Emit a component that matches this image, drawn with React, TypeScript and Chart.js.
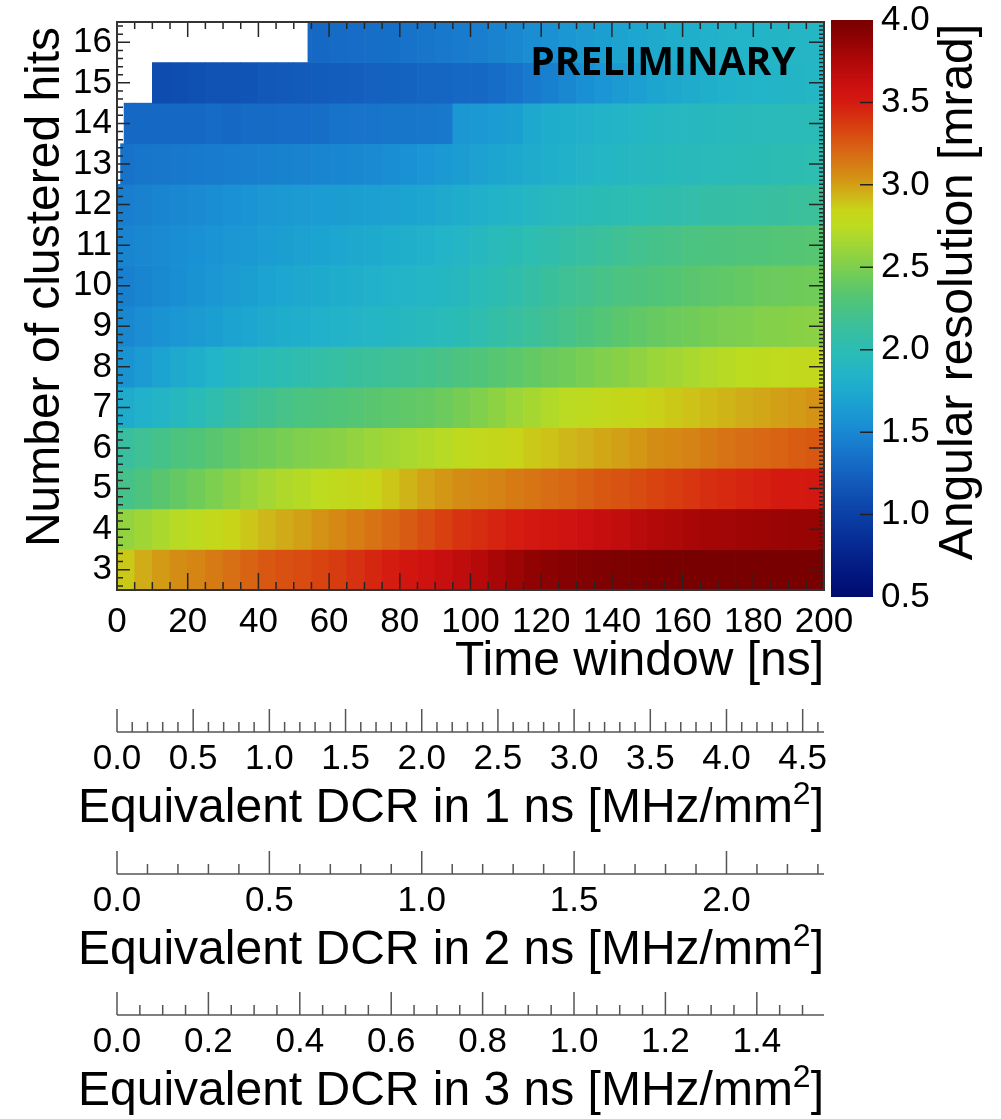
import React, { useEffect, useRef } from "react";
import { Chart, registerables } from "chart.js";

Chart.register(...registerables);

// ---------------- data ----------------
const hitCounts = [3, 4, 5, 6, 7, 8, 9, 10, 11, 12, 13, 14, 15, 16];
const timeBinStarts = [
  0, 5, 10, 15, 20, 25, 30, 35, 40, 45, 50, 55, 60, 65, 70, 75, 80, 85, 90, 95,
  100, 105, 110, 115, 120, 125, 130, 135, 140, 145, 150, 155, 160, 165, 170, 175, 180, 185, 190, 195,
];
const timeBinWidth = 5;
// first time window (ns) that has entries, per hit count (3..16)
const firstTimeWithData = [0, 0, 0, 0, 0, 0, 0, 0, 0, 0, 1, 2, 10, 54];

// angular resolution [mrad] per time bin, one array per number of clustered hits
const res3 = [2.88, 2.96, 3.02, 3.06, 3.09, 3.13, 3.17, 3.22, 3.26, 3.29, 3.31, 3.34, 3.37, 3.41, 3.45, 3.49, 3.54, 3.58, 3.62, 3.67, 3.72, 3.78, 3.83, 3.88, 3.91, 3.93, 3.95, 3.96, 3.97, 3.98, 3.99, 4.0, 4.0, 4.0, 4.0, 4.0, 4.0, 4.0, 4.0, 4.0];
const res4 = [2.58, 2.63, 2.68, 2.73, 2.77, 2.81, 2.85, 2.89, 2.93, 2.97, 3.0, 3.04, 3.08, 3.12, 3.16, 3.2, 3.25, 3.3, 3.35, 3.4, 3.43, 3.46, 3.49, 3.52, 3.54, 3.57, 3.6, 3.63, 3.66, 3.7, 3.73, 3.76, 3.78, 3.8, 3.81, 3.82, 3.83, 3.84, 3.85, 3.86];
const res5 = [2.22, 2.28, 2.34, 2.4, 2.45, 2.5, 2.55, 2.6, 2.65, 2.69, 2.72, 2.76, 2.79, 2.82, 2.85, 2.89, 2.94, 2.99, 3.03, 3.06, 3.08, 3.1, 3.13, 3.15, 3.18, 3.2, 3.23, 3.26, 3.28, 3.31, 3.34, 3.36, 3.39, 3.42, 3.44, 3.46, 3.48, 3.5, 3.51, 3.52];
const res6 = [2.12, 2.17, 2.22, 2.27, 2.3, 2.34, 2.38, 2.42, 2.45, 2.48, 2.51, 2.53, 2.55, 2.58, 2.61, 2.64, 2.67, 2.7, 2.73, 2.77, 2.8, 2.82, 2.85, 2.88, 2.9, 2.93, 2.95, 2.98, 3.0, 3.03, 3.06, 3.08, 3.1, 3.13, 3.16, 3.18, 3.2, 3.22, 3.24, 3.26];
const res7 = [1.77, 1.82, 1.87, 1.92, 1.97, 2.03, 2.09, 2.15, 2.19, 2.23, 2.26, 2.28, 2.3, 2.32, 2.34, 2.36, 2.38, 2.4, 2.43, 2.47, 2.51, 2.56, 2.61, 2.66, 2.7, 2.74, 2.77, 2.8, 2.82, 2.84, 2.86, 2.88, 2.9, 2.92, 2.94, 2.96, 2.98, 3.0, 3.02, 3.04];
const res8 = [1.57, 1.63, 1.69, 1.75, 1.8, 1.85, 1.9, 1.94, 1.98, 2.01, 2.04, 2.07, 2.1, 2.13, 2.15, 2.17, 2.19, 2.21, 2.24, 2.27, 2.3, 2.33, 2.36, 2.39, 2.42, 2.45, 2.48, 2.51, 2.54, 2.57, 2.61, 2.64, 2.67, 2.7, 2.73, 2.75, 2.77, 2.78, 2.79, 2.8];
const res9 = [1.5, 1.53, 1.57, 1.6, 1.63, 1.66, 1.69, 1.72, 1.75, 1.78, 1.8, 1.82, 1.84, 1.86, 1.88, 1.9, 1.92, 1.94, 1.96, 1.99, 2.03, 2.07, 2.11, 2.15, 2.19, 2.23, 2.27, 2.31, 2.35, 2.38, 2.41, 2.43, 2.45, 2.47, 2.49, 2.5, 2.52, 2.53, 2.54, 2.55];
const res10 = [1.45, 1.48, 1.51, 1.54, 1.57, 1.6, 1.63, 1.66, 1.69, 1.72, 1.74, 1.76, 1.78, 1.8, 1.82, 1.84, 1.86, 1.88, 1.9, 1.93, 1.97, 2.01, 2.05, 2.09, 2.13, 2.17, 2.2, 2.23, 2.26, 2.28, 2.3, 2.32, 2.34, 2.36, 2.38, 2.4, 2.42, 2.43, 2.44, 2.45];
const res11 = [1.48, 1.5, 1.52, 1.54, 1.56, 1.58, 1.6, 1.62, 1.64, 1.66, 1.68, 1.7, 1.72, 1.74, 1.76, 1.78, 1.8, 1.82, 1.85, 1.88, 1.92, 1.96, 1.99, 2.02, 2.05, 2.08, 2.11, 2.14, 2.17, 2.2, 2.22, 2.24, 2.26, 2.27, 2.28, 2.29, 2.3, 2.31, 2.32, 2.33];
const res12 = [1.44, 1.46, 1.48, 1.5, 1.52, 1.54, 1.56, 1.58, 1.6, 1.62, 1.63, 1.64, 1.65, 1.66, 1.67, 1.68, 1.7, 1.72, 1.75, 1.78, 1.81, 1.84, 1.87, 1.9, 1.93, 1.95, 1.97, 1.99, 2.0, 2.02, 2.03, 2.05, 2.06, 2.08, 2.09, 2.1, 2.11, 2.12, 2.14, 2.15];
const res13 = [1.36, 1.38, 1.39, 1.4, 1.41, 1.42, 1.43, 1.44, 1.45, 1.46, 1.47, 1.48, 1.49, 1.5, 1.52, 1.54, 1.56, 1.59, 1.62, 1.65, 1.68, 1.71, 1.74, 1.77, 1.8, 1.83, 1.86, 1.88, 1.9, 1.92, 1.93, 1.94, 1.95, 1.96, 1.97, 1.98, 1.99, 2.0, 2.01, 2.02];
const res14 = [1.29, 1.29, 1.3, 1.3, 1.3, 1.31, 1.3, 1.31, 1.31, 1.32, 1.32, 1.33, 1.36, 1.37, 1.37, 1.38, 1.38, 1.39, 1.4, 1.6, 1.62, 1.64, 1.66, 1.74, 1.78, 1.8, 1.82, 1.84, 1.86, 1.88, 1.9, 1.91, 1.92, 1.93, 1.94, 1.95, 1.96, 1.96, 1.97, 1.98];
const res15 = [null, null, 1.1, 1.11, 1.13, 1.15, 1.15, 1.16, 1.18, 1.19, 1.2, 1.21, 1.22, 1.23, 1.24, 1.25, 1.26, 1.27, 1.28, 1.29, 1.3, 1.32, 1.36, 1.41, 1.45, 1.5, 1.55, 1.59, 1.63, 1.67, 1.71, 1.74, 1.77, 1.8, 1.82, 1.84, 1.85, 1.86, 1.87, 1.88];
const res16 = [null, null, null, null, null, null, null, null, null, null, 1.3, 1.3, 1.31, 1.32, 1.33, 1.34, 1.36, 1.38, 1.4, 1.42, 1.44, 1.47, 1.5, 1.53, 1.56, 1.6, 1.63, 1.66, 1.69, 1.72, 1.75, 1.78, 1.8, 1.82, 1.84, 1.85, 1.86, 1.87, 1.88, 1.88];
const resolutionRows: (number | null)[][] = [res3, res4, res5, res6, res7, res8, res9, res10, res11, res12, res13, res14, res15, res16];

const timeTicks = [0, 20, 40, 60, 80, 100, 120, 140, 160, 180, 200];
const hitTicks = [3, 4, 5, 6, 7, 8, 9, 10, 11, 12, 13, 14, 15, 16];
const resolutionTicks = [0.5, 1.0, 1.5, 2.0, 2.5, 3.0, 3.5, 4.0];
const dcr1nsTicks = [0, 0.5, 1.0, 1.5, 2.0, 2.5, 3.0, 3.5, 4.0, 4.5];
const dcr2nsTicks = [0, 0.5, 1.0, 1.5, 2.0];
const dcr3nsTicks = [0, 0.2, 0.4, 0.6, 0.8, 1.0, 1.2, 1.4];
const dcrAxisMax = [4.64, 2.32, 1.547];
const dcrWindowNs = [1, 2, 3];
const timeRange = [0, 200];
const hitRange = [2.5, 16.5];
const resolutionRange = [0.5, 4.0];

// ---------------- palette ----------------
const paletteStops: [number, string][] = [
  [0.5, "#000a6e"], [0.65, "#021880"], [0.8, "#062890"], [0.95, "#0a3aa0"], [1.1, "#0e4cb0"],
  [1.25, "#1462c0"], [1.4, "#1878cc"], [1.55, "#1a90d4"], [1.7, "#1ca4d0"], [1.85, "#22b4c8"],
  [2.0, "#2cbcb4"], [2.15, "#3cc09a"], [2.3, "#50c478"], [2.45, "#70cc58"], [2.6, "#98d43c"],
  [2.75, "#bcdc20"], [2.85, "#c8d418"], [2.95, "#d0b018"], [3.05, "#d49014"], [3.2, "#d86814"],
  [3.35, "#d84010"], [3.5, "#d41a10"], [3.6, "#cc1010"], [3.75, "#b00808"], [3.9, "#8c0202"], [4.0, "#780000"],
];

function hexToRgb(h: string) {
  const n = parseInt(h.slice(1), 16);
  return [(n >> 16) & 255, (n >> 8) & 255, n & 255];
}
function paletteColor(v: number): string {
  const s = paletteStops;
  if (v <= s[0][0]) return s[0][1];
  if (v >= s[s.length - 1][0]) return s[s.length - 1][1];
  for (let i = 1; i < s.length; i++) {
    if (v <= s[i][0]) {
      const [v0, c0] = s[i - 1];
      const [v1, c1] = s[i];
      const t = (v - v0) / (v1 - v0);
      const a = hexToRgb(c0);
      const b = hexToRgb(c1);
      const m = (k: number) => Math.round(a[k] + (b[k] - a[k]) * t);
      return `rgb(${m(0)},${m(1)},${m(2)})`;
    }
  }
  return s[s.length - 1][1];
}

// ---------------- cells ----------------
type Cell = { x: [number, number]; y: number; v: number };
const cells: Cell[] = [];
hitCounts.forEach((hits, r) => {
  resolutionRows[r].forEach((v, i) => {
    if (v === null) return;
    const t0 = Math.max(timeBinStarts[i], firstTimeWithData[r]);
    const t1 = timeBinStarts[i] + timeBinWidth;
    if (t1 > t0) cells.push({ x: [t0, t1], y: hits, v });
  });
});

// ---------------- styling helpers ----------------
const FAMILY = "Liberation Sans";
const tickFont = { family: FAMILY, size: 35, lineHeight: 1 };
const titleFont = { family: FAMILY, size: 48, lineHeight: 1 };
const zeroPad = (s: any) => {
  s.paddingTop = 0;
  s.paddingBottom = 0;
  s.paddingLeft = 0;
  s.paddingRight = 0;
};
const fixedTicks = (vals: number[]) => (s: any) => {
  s.ticks = vals.map((value) => ({ value }));
};
const noGrid = { display: false, drawTicks: false };
const noBorder = { display: false };

const dcrSpecs = [
  { id: "dcr1", max: dcrAxisMax[0], minorStep: 0.1, majorEvery: 5, ns: dcrWindowNs[0] },
  { id: "dcr2", max: dcrAxisMax[1], minorStep: 0.1, majorEvery: 5, ns: dcrWindowNs[1] },
  { id: "dcr3", max: dcrAxisMax[2], minorStep: 0.05, majorEvery: 4, ns: dcrWindowNs[2] },
];
const DCR_LINE_OFFSET = 25;
const DCR_TITLE_OFFSET = 102;

const decorPlugin = {
  id: "decor",
  afterLayout(chart: any) {
    const cb = chart.scales.cb;
    const a = chart.chartArea;
    cb.top = a.top - 2;
    cb.bottom = a.bottom + 7;
    cb.height = cb.bottom - cb.top;
    cb.configure();
  },
  afterDatasetsDraw(chart: any) {
    const { ctx, chartArea: a, scales } = chart;
    const xs = scales.x;
    const ys = scales.y;
    ctx.save();
    ctx.strokeStyle = "#262626";
    ctx.lineWidth = 1.5;
    ctx.beginPath();
    // bottom / top ticks every 5 ns, major every 20 ns
    for (let k = 0; k <= 40; k++) {
      const px = xs.getPixelForValue(k * 5);
      const major = k % 4 === 0;
      ctx.moveTo(px, a.bottom);
      ctx.lineTo(px, a.bottom - (major ? 17 : 8));
      ctx.moveTo(px, a.top);
      ctx.lineTo(px, a.top + (major ? 15 : 7));
    }
    // left ticks every 0.2
    for (let k = 13; k <= 82; k++) {
      const py = ys.getPixelForValue(k * 0.2);
      const major = k % 5 === 0;
      ctx.moveTo(a.left, py);
      ctx.lineTo(a.left + (major ? 13 : 6), py);
    }
    // right ticks every 0.1
    for (let k = 26; k <= 164; k++) {
      const py = ys.getPixelForValue(k * 0.1);
      const major = k % 10 === 0;
      ctx.moveTo(a.right, py);
      ctx.lineTo(a.right - (major ? 15 : 5), py);
    }
    ctx.stroke();
    ctx.lineWidth = 2;
    ctx.strokeStyle = "#333";
    ctx.strokeRect(a.left, a.top, a.right - a.left, a.bottom - a.top);
    ctx.restore();
  },
  afterDraw(chart: any) {
    const { ctx, chartArea: a, scales } = chart;
    ctx.save();
    // colour bar
    const cb = scales.cb;
    const x0 = a.right + 7;
    const x1 = a.right + 49;
    const yTop = cb.getPixelForValue(resolutionRange[1]);
    const yBot = cb.getPixelForValue(resolutionRange[0]);
    const g = ctx.createLinearGradient(0, yBot, 0, yTop);
    paletteStops.forEach(([v, c]) =>
      g.addColorStop((v - resolutionRange[0]) / (resolutionRange[1] - resolutionRange[0]), c)
    );
    ctx.fillStyle = g;
    ctx.fillRect(x0, yTop, x1 - x0, yBot - yTop);
    ctx.strokeStyle = "#222";
    ctx.lineWidth = 1.5;
    ctx.beginPath();
    resolutionTicks.forEach((v) => {
      if (v <= resolutionRange[0] || v >= resolutionRange[1]) return;
      const py = cb.getPixelForValue(v);
      ctx.moveTo(x1 - 13, py);
      ctx.lineTo(x1, py);
    });
    ctx.stroke();

    // DCR axes
    ctx.strokeStyle = "#555";
    ctx.lineWidth = 1.5;
    dcrSpecs.forEach((spec) => {
      const s = scales[spec.id];
      const yl = s.top + DCR_LINE_OFFSET;
      ctx.beginPath();
      ctx.moveTo(s.left, yl);
      ctx.lineTo(s.right, yl);
      const n = Math.floor(spec.max / spec.minorStep + 1e-6);
      for (let k = 0; k <= n; k++) {
        const px = s.getPixelForValue(k * spec.minorStep);
        const major = k % spec.majorEvery === 0;
        ctx.moveTo(px, yl);
        ctx.lineTo(px, yl - (major ? 23 : 10));
      }
      ctx.stroke();
    });

    // DCR titles with superscript, right-aligned to the axis end
    ctx.fillStyle = "#000";
    ctx.textAlign = "left";
    ctx.textBaseline = "middle";
    dcrSpecs.forEach((spec) => {
      const s = scales[spec.id];
      const yc = s.top + DCR_TITLE_OFFSET;
      const main = `Equivalent DCR in ${spec.ns} ns [MHz/mm`;
      const bigFont = `48px "${FAMILY}"`;
      const supFont = `32px "${FAMILY}"`;
      ctx.font = bigFont;
      const wMain = ctx.measureText(main).width;
      const wClose = ctx.measureText("]").width;
      ctx.font = supFont;
      const wSup = ctx.measureText("2").width;
      let x = s.right - (wMain + wSup + wClose);
      ctx.font = bigFont;
      ctx.fillText(main, x, yc);
      x += wMain;
      ctx.font = supFont;
      ctx.fillText("2", x, yc - 14);
      x += wSup;
      ctx.font = bigFont;
      ctx.fillText("]", x, yc);
    });

    // rotated titles
    ctx.textAlign = "center";
    ctx.textBaseline = "middle";
    ctx.font = `48px "${FAMILY}"`;
    ctx.save();
    ctx.translate(a.left - 71, 287);
    ctx.rotate(-Math.PI / 2);
    ctx.fillText("Number of clustered hits", 0, 0);
    ctx.restore();
    ctx.save();
    ctx.translate(a.right + 135, 292);
    ctx.rotate(-Math.PI / 2);
    ctx.fillText("Angular resolution [mrad]", 0, 0);
    ctx.restore();

    // PRELIMINARY tag
    ctx.font = `bold 39px "Open Sans"`;
    ctx.fillText("PRELIMINARY", a.right - 161, a.top + 42);
    ctx.restore();
  },
};

function dcrScale(weight: number, max: number, ticks: number[], height: number) {
  return {
    type: "linear",
    position: "bottom",
    weight,
    min: 0,
    max,
    offset: false,
    grid: noGrid,
    border: noBorder,
    afterBuildTicks: fixedTicks(ticks),
    ticks: {
      font: tickFont,
      color: "#000",
      padding: 34.5,
      autoSkip: false,
      maxRotation: 0,
      minRotation: 0,
      callback: (v: any) => Number(v).toFixed(1),
    },
    title: { display: false },
    afterFit: (s: any) => {
      s.height = height;
      zeroPad(s);
    },
  };
}

export default function App() {
  const ref = useRef<HTMLCanvasElement>(null);

  useEffect(() => {
    if (!ref.current) return;
    const chart = new Chart(ref.current, {
      type: "bar",
      data: {
        datasets: [
          {
            data: cells as any,
            xAxisID: "x",
            yAxisID: "y",
            grouped: false,
            barPercentage: 1,
            categoryPercentage: 1,
            borderWidth: 0,
            backgroundColor: (c: any) => (c.raw ? paletteColor(c.raw.v) : "transparent"),
          } as any,
        ],
      },
      options: {
        indexAxis: "y",
        responsive: false,
        maintainAspectRatio: false,
        animation: false,
        devicePixelRatio: 1,
        events: [],
        layout: { padding: { top: 22, left: 0, right: 0, bottom: 0 } },
        plugins: { legend: { display: false }, tooltip: { enabled: false }, title: { display: false } },
        scales: {
          x: {
            type: "linear",
            position: "bottom",
            weight: 0,
            min: timeRange[0],
            max: timeRange[1],
            offset: false,
            grid: noGrid,
            border: noBorder,
            afterBuildTicks: fixedTicks(timeTicks),
            ticks: {
              font: tickFont,
              color: "#000",
              padding: 14.5,
              autoSkip: false,
              maxRotation: 0,
              minRotation: 0,
              callback: (v: any) => String(v),
            },
            title: { display: true, text: "Time window [ns]", align: "end", font: titleFont, color: "#000", padding: { top: 0, bottom: 21 } },
            afterFit: (s: any) => {
              s.height = 117;
              zeroPad(s);
            },
          },
          y: {
            type: "linear",
            position: "left",
            min: hitRange[0],
            max: hitRange[1],
            offset: false,
            grid: noGrid,
            border: noBorder,
            afterBuildTicks: fixedTicks(hitTicks),
            ticks: { font: tickFont, color: "#000", padding: 5, autoSkip: false, callback: (v: any) => String(v) },
            afterFit: (s: any) => {
              s.width = 117;
              zeroPad(s);
            },
          },
          cb: {
            type: "linear",
            position: "right",
            min: resolutionRange[0],
            max: resolutionRange[1],
            offset: false,
            grid: noGrid,
            border: noBorder,
            afterBuildTicks: fixedTicks(resolutionTicks),
            ticks: { font: tickFont, color: "#000", padding: 57, autoSkip: false, callback: (v: any) => Number(v).toFixed(1) },
            afterFit: (s: any) => {
              s.width = 177;
              zeroPad(s);
            },
          },
          dcr1: dcrScale(1, dcrAxisMax[0], dcr1nsTicks, 142),
          dcr2: dcrScale(2, dcrAxisMax[1], dcr2nsTicks, 141),
          dcr3: dcrScale(3, dcrAxisMax[2], dcr3nsTicks, 129),
        } as any,
      },
      plugins: [decorPlugin],
    } as any);
    return () => chart.destroy();
  }, []);

  return (
    <div style={{ position: "absolute", left: 0, top: 0, width: 1001, height: 1119, background: "#fff" }}>
      <canvas ref={ref} width={1001} height={1119} style={{ display: "block", width: 1001, height: 1119 }} />
    </div>
  );
}
